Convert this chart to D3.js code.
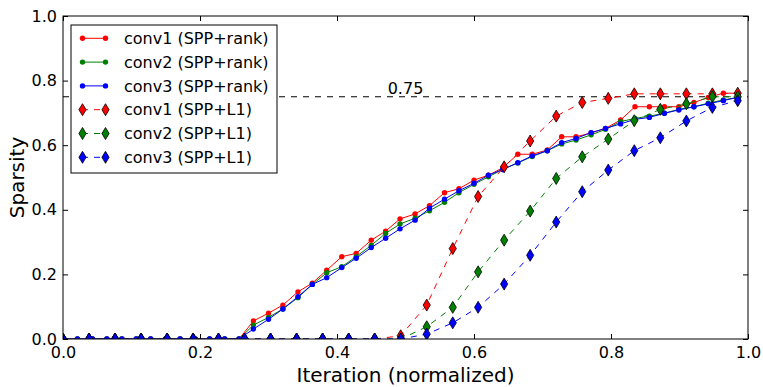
<!DOCTYPE html>
<html>
<head>
<meta charset="utf-8">
<script src="https://cdn.jsdelivr.net/npm/d3@7"></script>
<style>
  body { margin: 0; background: #fff; }
  svg text { font-family: "DejaVu Sans", sans-serif; }
</style>
</head>
<body>
<div id="chart"></div>
<script>
var width = 763;
var height = 387;

// x positions (normalized iteration)
var rankX = [0, .021, .043, .064, .086, .107, .128, .150, .171, .193, .214, .236, .257, .278, .300, .321,
  .343, .364, .385, .407, .428, .450, .471, .492, .514, .535, .557, .578, .600, .621, .642, .664,
  .685, .707, .728, .749, .771, .792, .814, .835, .856, .878, .899, .921, .942, .964, .985];
var l1X = [0, .038, .076, .114, .152, .190, .227, .265, .303, .341, .379, .417, .455, .493,
  .531, .569, .606, .644, .682, .720, .758, .796, .834, .872, .910, .948, .985];

var conv1Rank = [0, 0, 0, 0, 0, 0, 0, 0, 0, 0, 0, 0, 0, .056, .080, .105, .146, .173, .213, .255, .265,
  .306, .334, .372, .387, .413, .453, .465, .492, .507, .530, .572, .572, .585, .626, .626, .638,
  .652, .678, .719, .719, .719, .719, .732, .748, .761, .761];
var conv2Rank = [0, 0, 0, 0, 0, 0, 0, 0, 0, 0, 0, 0, 0, .043, .067, .093, .128, .169, .205, .224, .255,
  .290, .327, .356, .374, .397, .423, .453, .479, .502, .525, .545, .565, .583, .604, .616, .632,
  .649, .673, .683, .690, .699, .711, .719, .730, .740, .748];
var conv3Rank = [0, 0, 0, 0, 0, 0, 0, 0, 0, 0, 0, 0, 0, .031, .061, .093, .131, .169, .190, .221, .250,
  .283, .312, .341, .368, .405, .433, .459, .482, .507, .525, .546, .567, .583, .608, .621, .639,
  .652, .666, .680, .686, .699, .709, .719, .728, .738, .748];

var conv1L1 = [0, 0, 0, 0, 0, 0, 0, 0, 0, 0, 0, 0, 0, .010, .105, .280, .441, .533, .613, .690,
  .732, .745, .759, .759, .759, .759, .761];
var conv2L1 = [0, 0, 0, 0, 0, 0, 0, 0, 0, 0, 0, 0, 0, 0, .038, .098, .208, .306, .396, .497,
  .564, .619, .676, .711, .728, .750, .750];
var conv3L1 = [0, 0, 0, 0, 0, 0, 0, 0, 0, 0, 0, 0, 0, 0, .015, .050, .098, .170, .259, .362,
  .456, .523, .583, .623, .675, .717, .738];

var ticks = [0, 0.2, 0.4, 0.6, 0.8, 1.0];
var target = 0.75;

var series = [
  {name: "conv1 (SPP+rank)", x: rankX, y: conv1Rank, color: "#ff0000", type: "rank"},
  {name: "conv2 (SPP+rank)", x: rankX, y: conv2Rank, color: "#008000", type: "rank"},
  {name: "conv3 (SPP+rank)", x: rankX, y: conv3Rank, color: "#0000ff", type: "rank"},
  {name: "conv1 (SPP+L1)", x: l1X, y: conv1L1, color: "#ff0000", type: "l1"},
  {name: "conv2 (SPP+L1)", x: l1X, y: conv2L1, color: "#008000", type: "l1"},
  {name: "conv3 (SPP+L1)", x: l1X, y: conv3L1, color: "#0000ff", type: "l1"}
];

var margin = {left: 63, right: 15, top: 16, bottom: 48};
var pw = width - margin.left - margin.right;
var ph = height - margin.top - margin.bottom;

var svg = d3.select("#chart").append("svg")
  .attr("width", width)
  .attr("height", height);

var g = svg.append("g").attr("transform", "translate(" + margin.left + "," + margin.top + ")");

var x = d3.scaleLinear().domain([0, 1]).range([0, pw]);
var y = d3.scaleLinear().domain([0, 1]).range([ph, 0]);

svg.append("defs").append("clipPath").attr("id", "clip")
  .append("rect").attr("width", pw).attr("height", ph);

var diamond = "M0,-6L3.6,0L0,6L-3.6,0Z";

var plot = g.append("g").attr("clip-path", "url(#clip)");

// 0.75 reference line
plot.append("line")
  .attr("x1", x(0)).attr("x2", x(1))
  .attr("y1", y(target)).attr("y2", y(target))
  .attr("stroke", "#000").attr("stroke-width", 1)
  .attr("stroke-dasharray", "6,6");

g.append("text")
  .attr("x", x(0.5)).attr("y", y(target) - 3)
  .attr("text-anchor", "middle")
  .attr("font-size", 16)
  .text("0.75");

var line = d3.line()
  .x(function(d){ return x(d[0]); })
  .y(function(d){ return y(d[1]); });

series.forEach(function(s){
  var pts = s.x.map(function(v, i){ return [v, s.y[i]]; });
  plot.append("path")
    .attr("d", line(pts))
    .attr("fill", "none")
    .attr("stroke", s.color)
    .attr("stroke-width", 1)
    .attr("stroke-dasharray", s.type == "l1" ? "6,6" : null);

  if (s.type == "rank") {
    plot.selectAll(null).data(pts).enter()
      .append("circle")
      .attr("cx", function(d){ return x(d[0]); })
      .attr("cy", function(d){ return y(d[1]); })
      .attr("r", 2.7)
      .attr("fill", s.color);
  } else {
    plot.selectAll(null).data(pts).enter()
      .append("path")
      .attr("d", diamond)
      .attr("transform", function(d){ return "translate(" + x(d[0]) + "," + y(d[1]) + ")"; })
      .attr("fill", s.color)
      .attr("stroke", "#000")
      .attr("stroke-width", 0.8);
  }
});

// axes, ticks pointing inward on all sides
var fmt = d3.format(".1f");
var axB = g.append("g").attr("transform", "translate(0," + ph + ")")
  .call(d3.axisBottom(x).tickValues(ticks).tickFormat(fmt).tickSize(-5).tickPadding(8));
var axT = g.append("g")
  .call(d3.axisTop(x).tickValues(ticks).tickFormat("").tickSize(-5));
var axL = g.append("g")
  .call(d3.axisLeft(y).tickValues(ticks).tickFormat(fmt).tickSize(-5).tickPadding(6));
var axR = g.append("g").attr("transform", "translate(" + pw + ",0)")
  .call(d3.axisRight(y).tickValues(ticks).tickFormat("").tickSize(-5));

[axB, axT, axL, axR].forEach(function(a){
  a.select(".domain").remove();
  a.selectAll("line").attr("stroke", "#000");
  a.selectAll("text").attr("font-size", 16).attr("fill", "#000")
    .style("font-family", "DejaVu Sans");
});

g.append("rect")
  .attr("width", pw).attr("height", ph)
  .attr("fill", "none").attr("stroke", "#000").attr("stroke-width", 1);

// axis labels
svg.append("text")
  .attr("x", margin.left + pw / 2).attr("y", 382)
  .attr("text-anchor", "middle")
  .attr("font-size", 20)
  .text("Iteration (normalized)");

svg.append("text")
  .attr("transform", "translate(24," + (margin.top + ph / 2) + ") rotate(-90)")
  .attr("text-anchor", "middle")
  .attr("font-size", 20)
  .text("Sparsity");

// legend
var legend = svg.append("g").attr("transform", "translate(71,25)");
legend.append("rect")
  .attr("width", 206).attr("height", 148)
  .attr("fill", "#fff").attr("stroke", "#000").attr("stroke-width", 1);

series.forEach(function(s, i){
  var ry = 13.3 + i * 23.8;
  var row = legend.append("g").attr("transform", "translate(0," + ry + ")");
  row.append("line")
    .attr("x1", 11).attr("x2", 35)
    .attr("stroke", s.color).attr("stroke-width", 1)
    .attr("stroke-dasharray", s.type == "l1" ? "6,6" : null);
  [11.5, 34.5].forEach(function(mx){
    if (s.type == "rank") {
      row.append("circle").attr("cx", mx).attr("r", 2.7).attr("fill", s.color);
    } else {
      row.append("path").attr("d", diamond)
        .attr("transform", "translate(" + mx + ",0)")
        .attr("fill", s.color).attr("stroke", "#000").attr("stroke-width", 0.8);
    }
  });
  row.append("text")
    .attr("x", 53).attr("dy", "0.35em")
    .attr("font-size", 16)
    .text(s.name);
});
</script>
</body>
</html>
